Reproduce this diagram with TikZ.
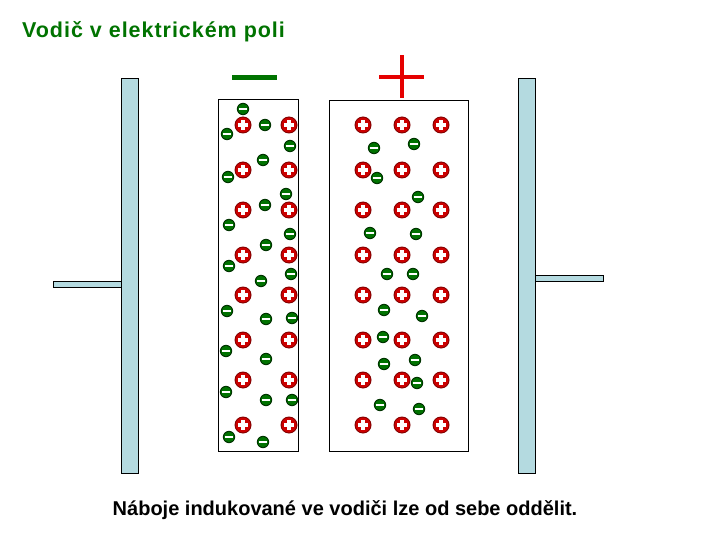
\documentclass[tikz,border=0pt]{standalone}
\usepackage{fontspec}
\setmainfont{Liberation Sans}
\newfontfamily\titlefont[LetterSpace=4.5]{Liberation Sans}
\begin{document}
\begin{tikzpicture}[x=1pt,y=-1pt,
  plus/.pic={\fill[black!50!red] (0,0) circle (8.5);\fill[red!80!black] (0,0) circle (7.5);
    \fill[white] (-5,-1.8) rectangle (5,1.8);\fill[white] (-1.8,-5) rectangle (1.8,5);},
  minus/.pic={\fill[black!80!green] (0,0) circle (6.2);\fill[green!45!black] (0,0) circle (5.2);\fill[white] (-3.8,-1) rectangle (3.8,1);}]
\useasboundingbox (0,0) rectangle (720,540);
\definecolor{platec}{RGB}{180,218,224}
\node[anchor=west,inner sep=0pt,text=green!45!black,font=\titlefont\bfseries\fontsize{21.5}{24}\selectfont] (title) at (22,32) {Vodič v elektrickém poli};
\node[font=\bfseries\fontsize{20}{23}\selectfont] (cap) at (345,510) {Náboje indukované ve vodiči lze od sebe oddělit.};
% plates
\draw[fill=platec] (121,78) rectangle (138,473);
\draw[fill=platec] (53,281) rectangle (121,287);
\draw[fill=platec] (518,78) rectangle (535,473);
\draw[fill=platec] (535,275) rectangle (603,281);
% conductors
\draw[line width=0.7pt] (218,99) rectangle (298,451);
\draw[line width=0.7pt] (329,100) rectangle (468,451);
% big signs
\fill[green!45!black] (232,75.5) rectangle (277,80.5);
\fill[red!90!black] (379,75) rectangle (424,79);
\fill[red!90!black] (399.5,55) rectangle (403.5,98);
% plus charges
\foreach \y in {125,170,210,255,295,340,380,425}{
  \foreach \x in {243,289,363,402,441}{\pic at (\x,\y) {plus};}}
% minus charges
\foreach \x/\y in {243/109,227/134,265/125,290/146,263/160,228/177,286/194,265/205,229/225,290/234,266/245,229/266,
  291/274,261/281,227/311,266/319,292/318,226/351,266/359,226/392,266/400,292/400,229/437,263/442,
  374/148,414/144,377/178,418/197,370/233,416/234,387/274,413/274,384/310,422/316,383/337,384/364,415/360,417/383,380/405,419/409}
  {\pic at (\x,\y) {minus};}
\end{tikzpicture}
\end{document}
